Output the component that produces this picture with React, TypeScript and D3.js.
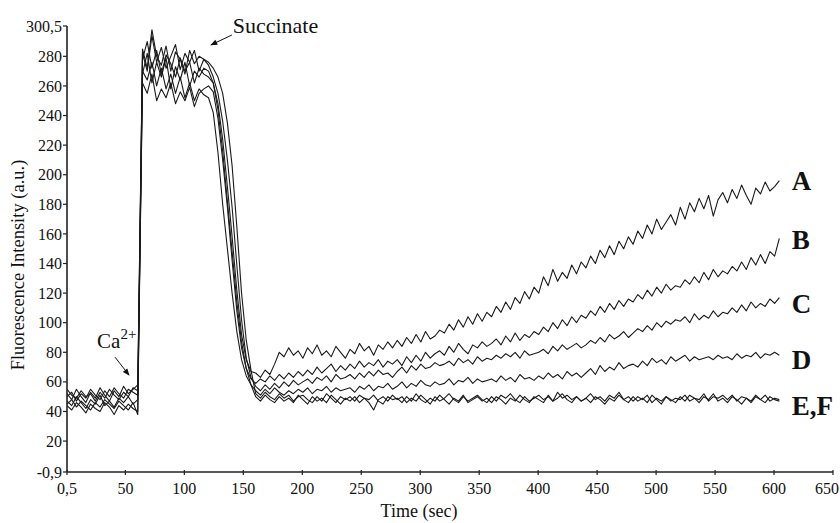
import React from 'react';
import * as d3 from 'd3';

// sampling grid of the recorded traces (sec)
const timeStart = 0.5;
const timeStep = 4;

// fluorescence (a.u.), one value every 4 s
const traceA = [
  52, 48, 55, 50, 46, 53, 49, 56, 51, 47, 54, 50, 57, 52, 55, 58,
  278, 290, 272, 284, 268, 281, 275, 266, 279, 270, 276, 262, 272, 268,
  266, 262, 248, 224, 192, 158, 122, 92, 75, 67,
  66, 63, 68, 65, 72, 80, 77, 83, 78, 81,
  76, 83, 79, 85, 78, 81, 77, 84, 80, 76,
  82, 79, 86, 81, 84, 78, 85, 82, 87, 83,
  88, 84, 90, 86, 92, 87, 94, 89, 91, 95,
  93, 99, 95, 102, 97, 104, 99, 106, 101, 107,
  104, 111, 107, 114, 109, 117, 113, 121, 116, 124,
  120, 131, 125, 136, 128, 134, 130, 139, 133, 141,
  137, 145, 140, 149, 144, 152, 146, 155, 150, 158,
  153, 162, 157, 166, 160, 170, 163, 168, 173, 166,
  178, 170, 181, 175, 184, 177, 186, 172, 183, 188,
  181, 190, 184, 193, 186, 180, 191, 187, 195, 189,
  192, 196,
];

const traceB = [
  47, 44, 50, 46, 42, 48, 45, 51, 44, 47, 43, 49, 46, 50, 45, 48,
  262, 255, 268, 250, 258, 252, 262, 248, 256, 250, 259, 246, 255, 258,
  260, 256, 238, 210, 178, 142, 108, 83, 69, 62,
  59, 62, 60, 64, 61, 65, 62, 66, 63, 67,
  64, 68, 65, 70, 66, 69, 72, 67, 71, 68,
  72, 69, 74, 70, 73, 71, 75, 70, 74, 72,
  75, 71, 77, 73, 78, 74, 80, 76, 79, 81,
  78, 84, 80, 86, 82, 79, 85, 83, 87, 84,
  86, 89, 85, 91, 87, 93, 88, 92, 90, 94,
  92, 97, 94, 100, 96, 102, 98, 104, 100, 105,
  103, 108, 105, 111, 107, 113, 109, 115, 111, 116,
  114, 119, 116, 122, 118, 124, 120, 126, 122, 125,
  124, 129, 126, 131, 127, 134, 129, 136, 131, 135,
  133, 138, 135, 141, 136, 144, 139, 146, 140, 148,
  145, 157,
];

const traceC = [
  44, 41, 46, 43, 39, 45, 42, 40, 46, 43, 38, 44, 41, 45, 42, 40,
  282, 270, 294, 276, 286, 272, 280, 288, 271, 282, 276, 284, 270, 278,
  274, 266, 255, 236, 210, 178, 139, 102, 76, 63,
  57, 54, 58, 55, 59, 56, 60, 57, 61, 58,
  60, 62, 59, 63, 61, 64, 60, 65, 62, 63,
  65, 62, 66, 63, 67, 64, 68, 65, 66, 63,
  67, 70, 66, 71, 68, 72, 69, 70, 73, 71,
  72, 74, 71, 76, 73, 75, 72, 77, 74, 76,
  75, 78, 76, 79, 77, 80, 76, 81, 78, 79,
  80, 82, 79, 84, 81, 85, 82, 84, 86, 83,
  85, 88, 86, 90, 87, 92, 89, 91, 94, 90,
  93, 96, 94, 98, 95, 100, 97, 101, 99, 102,
  101, 104, 100, 106, 102, 105, 103, 108, 104, 107,
  106, 110, 107, 112, 108, 114, 110, 113, 111, 116,
  113, 117,
];

const traceD = [
  50, 53, 47, 52, 49, 55, 51, 48, 54, 50, 56, 52, 49, 55, 53, 51,
  270, 264, 276, 260, 272, 258, 268, 255, 266, 252, 262, 250, 258, 254,
  252, 242, 215, 180, 150, 120, 94, 75, 64, 58,
  54, 51, 55, 52, 56, 53, 51, 54, 52, 55,
  53, 56, 52, 55, 54, 57, 53, 56, 54, 55,
  56, 53, 57, 55, 58, 54, 57, 56, 59, 55,
  57, 60, 56, 59, 57, 61, 58, 57, 60, 58,
  59, 62, 58, 61, 60, 63, 59, 62, 60, 61,
  62, 60, 64, 61, 63, 60, 65, 62, 63, 61,
  64, 62, 66, 63, 65, 62, 67, 64, 66, 63,
  66, 69, 65, 71, 67, 70, 68, 73, 69, 71,
  72, 70, 74, 71, 76, 73, 75, 72, 77, 74,
  76, 78, 74, 77, 75, 76, 77, 75, 78, 76,
  77, 75, 79, 76, 78, 77, 80, 76, 79, 78,
  80, 78,
];

const traceE = [
  45, 48, 43, 47, 44, 41, 46, 43, 48, 45, 42, 47, 44, 41, 46, 38,
  268, 282, 262, 276, 266, 279, 258, 273, 264, 276, 260, 270, 266, 272,
  270, 262, 244, 216, 182, 148, 114, 87, 69, 58,
  50, 47, 51, 48, 46, 50, 47, 49, 46, 51,
  48, 45, 50, 47, 49, 46, 51, 48, 45, 49,
  47, 50, 46, 49, 48, 51, 47, 45, 50, 48,
  49, 46, 50, 47, 52, 48, 46, 49, 47, 51,
  48, 45, 49, 47, 51, 46, 48, 50, 47, 49,
  46, 50, 48, 45, 49, 47, 51, 48, 46, 50,
  48, 46, 51, 47, 49, 52, 48, 46, 50, 47,
  49, 46, 50, 48, 45, 49, 47, 51, 48, 46,
  50, 47, 49, 46, 51, 48, 45, 50, 47, 49,
  48, 51, 47, 49, 46, 50, 48, 52, 47, 49,
  46, 50, 48, 45, 49, 47, 51, 48, 46, 50,
  48, 47,
];

const traceF = [
  55, 51, 49, 54, 50, 52, 47, 53, 49, 55, 51, 48, 53, 50, 56, 54,
  285, 272, 298, 280, 274, 287, 270, 283, 278, 268, 284, 275, 280, 278,
  276, 272, 266, 255, 235, 206, 165, 120, 88, 68,
  52, 49, 53, 50, 48, 52, 49, 51, 47, 50,
  51, 48, 46, 50, 47, 52, 49, 46, 50, 48,
  50, 47, 51, 49, 46, 41, 48, 50, 47, 51,
  48, 50, 46, 49, 47, 51, 48, 45, 50, 47,
  49, 52, 48, 46, 50, 47, 49, 51, 48, 46,
  50, 47, 51, 49, 52, 48, 46, 50, 47, 49,
  51, 48, 50, 47, 53, 49, 51, 48, 50, 47,
  49, 52, 48, 50, 47, 51, 49, 53, 48, 50,
  47, 50, 48, 51, 46, 49, 47, 50, 48, 46,
  50, 47, 51, 49, 48, 52, 47, 50, 49, 51,
  48, 51, 47, 50, 49, 46, 50, 48, 51, 47,
  49, 48,
];

const traces = [traceA, traceB, traceC, traceD, traceE, traceF];

const xTicks = [0.5, 50, 100, 150, 200, 250, 300, 350, 400, 450, 500, 550, 600, 650];
const xTickLabels = ['0,5', '50', '100', '150', '200', '250', '300', '350', '400', '450', '500', '550', '600', '650'];
const yTicks = [-0.9, 20, 40, 60, 80, 100, 120, 140, 160, 180, 200, 220, 240, 260, 280, 300.5];
const yTickLabels = ['-0,9', '20', '40', '60', '80', '100', '120', '140', '160', '180', '200', '220', '240', '260', '280', '300,5'];

const seriesNames = ['A', 'B', 'C', 'D', 'E,F'];
const seriesNameLevels = [196, 156, 113, 75, 44];

const width = 840;
const height = 523;
const serif = { fontFamily: '"Liberation Serif", "Times New Roman", serif' };

const App = () => {
  const x = d3.scaleLinear().domain([0.5, 650]).range([67, 833]);
  const y = d3.scaleLinear().domain([-0.9, 300.5]).range([472, 26]);

  const line = d3.line<number>()
    .x((_, i) => x(timeStart + i * timeStep))
    .y(d => y(d));

  return (
    <svg width={width} height={height} style={{ position: 'absolute', left: 0, top: 0, background: '#fff' }}>
      <defs>
        <marker id="head" viewBox="0 0 10 10" refX="9" refY="5" markerWidth="8" markerHeight="7"
          orient="auto" markerUnits="userSpaceOnUse">
          <path d="M0,1 L10,5 L0,9 Z" fill="#111" />
        </marker>
      </defs>

      <g fill="none" stroke="#1a1a1a" strokeWidth={1.1} strokeLinejoin="round">
        {traces.map((t, i) => <path key={i} d={line(t) || ''} />)}
      </g>

      {/* axes */}
      <line x1={x(0.5)} x2={x(650)} y1={y(-0.9)} y2={y(-0.9)} stroke="#222" strokeWidth={1.6} />
      <line x1={x(0.5)} x2={x(0.5)} y1={y(-0.9)} y2={y(300.5)} stroke="#222" strokeWidth={1.6} />

      {xTicks.map((v, i) => {
        const last = i === xTicks.length - 1;
        return (
          <g key={v} transform={`translate(${x(v)},${y(-0.9)})`}>
            <line y1={-2} y2={3} stroke="#222" strokeWidth={1.2} />
            <text x={last ? 839 - x(v) : 0} y={22} textAnchor={last ? 'end' : 'middle'} fontSize={16}
              fill="#111" style={serif}>{xTickLabels[i]}</text>
          </g>
        );
      })}
      {yTicks.map((v, i) => (
        <g key={v} transform={`translate(${x(0.5)},${y(v)})`}>
          <line x1={-4} x2={0} stroke="#222" strokeWidth={1.2} />
          <text x={-5} dy="0.35em" textAnchor="end" fontSize={16} fill="#111" style={serif}>{yTickLabels[i]}</text>
        </g>
      ))}

      <text x={419} y={517} textAnchor="middle" fontSize={18} fill="#111" style={serif}>Time (sec)</text>
      <text transform="translate(24,265) rotate(-90)" textAnchor="middle" fontSize={18.5} fill="#111" style={serif}>
        Fluorescence Intensity (a.u.)
      </text>

      {/* trace names */}
      {seriesNames.map((n, i) => (
        <text key={n} x={x(615)} y={y(seriesNameLevels[i])} dy="0.35em" fontSize={27}
          fontWeight="bold" fill="#111" style={serif}>{n}</text>
      ))}

      {/* annotations */}
      <text x={x(141)} y={y(296)} fontSize={22} fill="#111" style={serif}>Succinate</text>
      <line x1={x(140.3)} y1={y(294.4)} x2={x(122.5)} y2={y(287.7)} stroke="#111" strokeWidth={1}
        markerEnd="url(#head)" />
      <text x={x(26)} y={y(82.8)} fontSize={21} fill="#111" style={serif}>
        Ca<tspan dy={-9} fontSize={15}>2+</tspan>
      </text>
      <line x1={x(41.2)} y1={y(76.7)} x2={x(53.1)} y2={y(64.6)} stroke="#111" strokeWidth={1}
        markerEnd="url(#head)" />
    </svg>
  );
};

export default App;
